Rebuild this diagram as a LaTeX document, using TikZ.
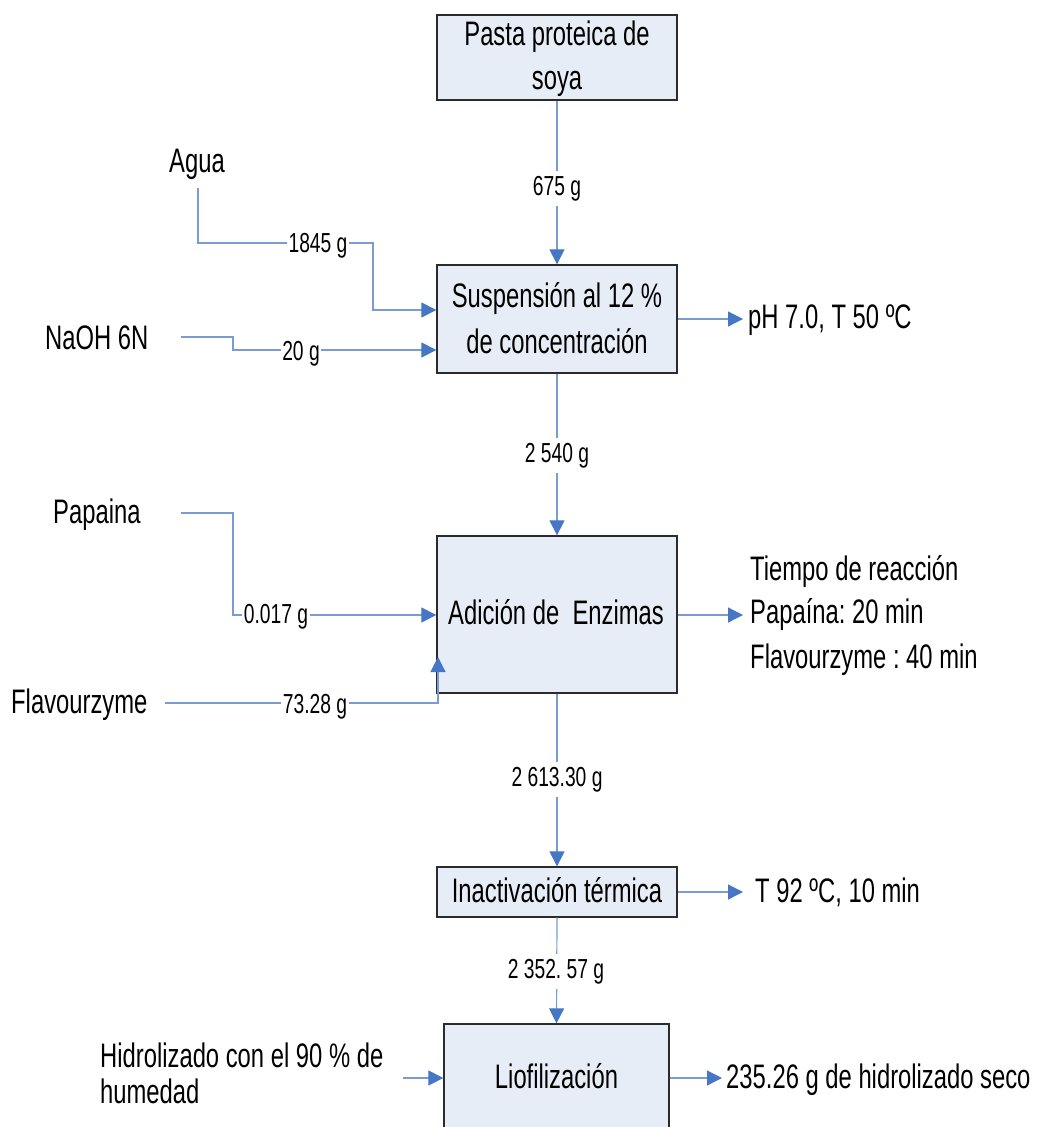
\documentclass[tikz,border=0pt]{standalone}
\usepackage{fontspec}
\setmainfont{Liberation Sans}[FakeStretch=0.70]
\usetikzlibrary{arrows.meta}
\definecolor{lineblue}{HTML}{7A9CD3}
\definecolor{tipblue}{HTML}{4677C6}
\definecolor{boxfill}{HTML}{E7EDF7}
\definecolor{boxline}{HTML}{2B2B2B}
\frenchspacing
\begin{document}
\begin{tikzpicture}[x=1pt,y=-1pt,
  box/.style={draw=boxline, line width=1.3pt, fill=boxfill, inner sep=0pt},
  big/.style={font=\fontsize{34}{45}\selectfont, inner sep=0pt},
  lbl/.style={font=\fontsize{27.5}{30}\selectfont, fill=white, inner xsep=1.5pt, inner ysep=5pt},
  flow/.style={draw=lineblue, line width=1.2pt, -{Triangle[length=15pt,width=15pt,color=tipblue]}},
  plain/.style={draw=lineblue, line width=1.2pt}]
\useasboundingbox (0,0) rectangle (1040,1127);
\clip (0,0) rectangle (1040,1127);

% process boxes
\node[box, minimum width=240, minimum height=85] (pasta) at (557,57.5) {};
\node[box, minimum width=240, minimum height=108] (susp) at (557,319) {};
\node[box, minimum width=240, minimum height=157] (adic) at (557,614.5) {};
\node[box, minimum width=240, minimum height=50] (inact) at (557,892) {};
\node[box, minimum width=225, minimum height=120] (liof) at (556.5,1084) {};

% box texts
\node[big, anchor=base] (pastaA) at (557,45) {Pasta proteica de};
\node[big, anchor=base] (pastaB) at (557,89) {soya};
\node[big, anchor=base] (suspA) at (557,307) {Suspensión al 12 \%};
\node[big, anchor=base] (suspB) at (557,353) {de concentración};
\node[big, anchor=base] (adicT) at (556,624) {Adición de\ \ Enzimas};
\node[big, anchor=base] (inactT) at (557,902) {Inactivación térmica};
\node[big, anchor=base] (liofT) at (556.5,1088) {Liofilización};

% side texts
\node[big, anchor=base west] (agua) at (169,172) {Agua};
\node[big, anchor=base west] (naoh) at (45,349) {NaOH 6N};
\node[big, anchor=base west] (papaina) at (53,523) {Papaina};
\node[big, anchor=base west] (flavour) at (11,713) {Flavourzyme};
\node[big, anchor=base west] (hidA) at (100,1067) {Hidrolizado con el 90 \% de};
\node[big, anchor=base west] (hidB) at (100,1103) {humedad};
\node[big, anchor=base west] (ph) at (748,328) {pH 7.0, T 50 ºC};
\node[big, anchor=base west] (tiempo) at (750,580) {Tiempo de reacción};
\node[big, anchor=base west] (papT) at (750,623) {Papaína: 20 min};
\node[big, anchor=base west] (flvT) at (750,668) {Flavourzyme : 40 min};
\node[big, anchor=base west] (t92) at (755,902) {T 92 ºC, 10 min};
\node[big, anchor=base west] (seco) at (726,1088) {235.26 g de hidrolizado seco};

% free ends
\coordinate (aguaS) at (198,188);
\coordinate (naohS) at (181,337);
\coordinate (papS) at (181,513);
\coordinate (flvS) at (165,703);
\coordinate (flvE) at (438,657);
\coordinate (hidS) at (403,1078);

% main flow
\draw[flow] (pasta.south) -- (susp.north);
\node[lbl, anchor=base] (l675) at (557,195) {675 g};
\draw[flow] (susp.south) -- (adic.north);
\node[lbl, anchor=base] (l2540) at (557,462) {2 540 g};
\draw[flow] (adic.south) -- (inact.north);
\node[lbl, anchor=base] (l2613) at (557,786) {2 613.30 g};
\draw[flow] (inact.south) -- (liof.north);
\node[lbl, anchor=base] (l2352) at (556,978) {2 352. 57 g};

% inputs
\draw[flow] (aguaS) |- (373,243) -- (373,310) -- (susp.west |- 0,310);
\node[lbl, anchor=base, inner ysep=1pt] (l1845) at (318,252) {1845 g};
\draw[flow] (naohS) -- (233,337) -- (233,350) -- (susp.west |- 0,350);
\node[lbl, anchor=base, inner ysep=1pt] (l20) at (301,360) {20 g};
\draw[flow] (papS) -- (233,513) -- (233,615) -- (adic.west |- 0,615);
\node[lbl, anchor=base, inner ysep=1pt] (l017) at (276,623) {0.017 g};
\draw[flow] (flvS) -- (438,703) -- (flvE);
\node[lbl, anchor=base, inner ysep=1pt] (l7328) at (315,713) {73.28 g};
\draw[flow] (hidS) -- (liof.west |- hidS);

% outputs
\draw[flow, shorten >=5pt] (susp.east |- 0,319) -- (ph.west |- 0,319);
\draw[flow, shorten >=7pt] (adic.east |- 0,615) -- (papT.west |- 0,615);
\draw[flow, shorten >=12pt] (inact.east) -- (t92.west |- inact.east);
\draw[flow, shorten >=4pt] (liof.east |- 0,1078) -- (seco.west |- 0,1078);
\end{tikzpicture}
\end{document}
